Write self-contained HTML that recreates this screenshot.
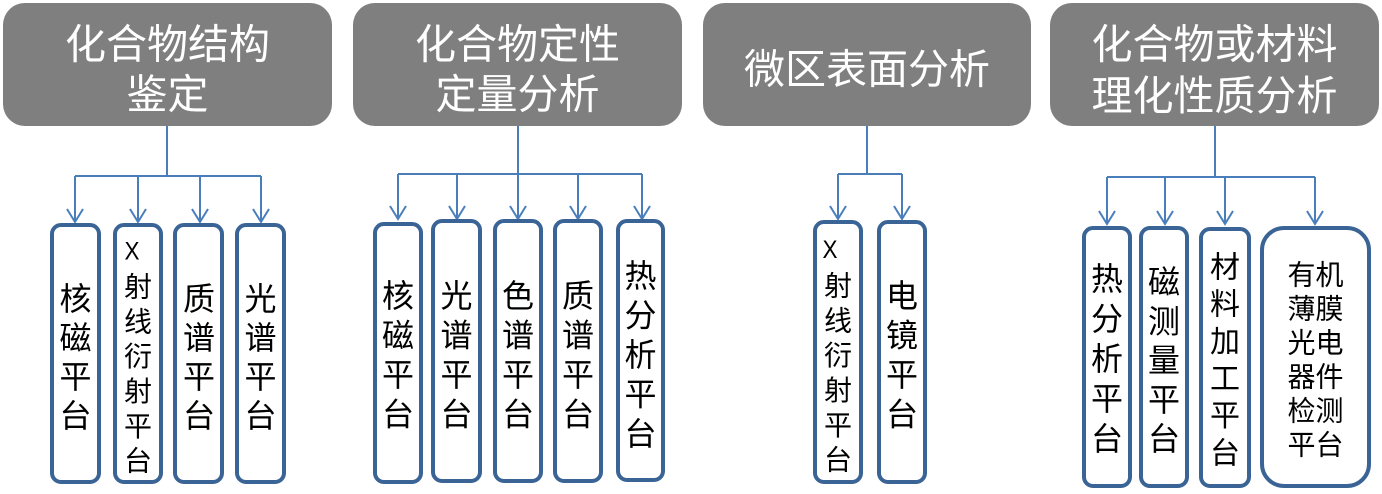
<!DOCTYPE html>
<html><head><meta charset="utf-8"><style>
html,body{margin:0;padding:0;background:#fff;}
svg{display:block;}
text{font-family:"Liberation Sans","Noto Sans CJK SC",sans-serif;}
</style></head><body>
<svg width="1382" height="494" viewBox="0 0 1382 494" xmlns="http://www.w3.org/2000/svg">
<!-- headers -->
<g fill="#7f7f7f">
<rect x="3" y="3" width="329" height="123" rx="22"/>
<rect x="353" y="3" width="329" height="123" rx="22"/>
<rect x="703" y="3" width="328" height="123" rx="22"/>
<rect x="1050" y="3" width="329" height="123" rx="22"/>
</g>
<g fill="#fff" font-size="41" text-anchor="middle">
<text x="167.5" y="58.5">化合物结构</text>
<text x="167.5" y="108.5">鉴定</text>
<text x="517.5" y="58.5">化合物定性</text>
<text x="517.5" y="108.5">定量分析</text>
<text x="867" y="83.5">微区表面分析</text>
<text x="1214.5" y="58.5">化合物或材料</text>
<text x="1214.5" y="110">理化性质分析</text>
</g>
<!-- connectors -->
<g stroke="#4a7ebb" stroke-width="2" fill="none">
<path d="M167 126V176M75 176H261M75 176V222M138 176V222M200 176V222M261 176V222"/>
<path d="M518 126V174M398 174H642M398 174V219M457 174V219M518 174V219M578 174V219M642 174V219"/>
<path d="M867 126V174M838 174H902M838 174V219M902 174V219"/>
<path d="M1215 126V177M1107 177H1315M1107 177V224M1165 177V224M1225 177V224M1315 177V224"/>
<path d="M67 209L75 222L83 209M130 209L138 222L146 209M192 209L200 222L208 209M253 209L261 222L269 209"/>
<path d="M390 206L398 219L406 206M449 206L457 219L465 206M510 206L518 219L526 206M570 206L578 219L586 206M634 206L642 219L650 206"/>
<path d="M830 206L838 219L846 206M894 206L902 219L910 206"/>
<path d="M1099 211L1107 224L1115 211M1157 211L1165 224L1173 211M1217 211L1225 224L1233 211M1307 211L1315 224L1323 211"/>
</g>
<!-- boxes -->
<g stroke="#3a6496" stroke-width="4" fill="#fff">
<rect x="52" y="225" width="47" height="257" rx="9"/>
<rect x="115" y="225" width="46" height="257" rx="9"/>
<rect x="175" y="225" width="47" height="257" rx="9"/>
<rect x="237" y="225" width="47" height="257" rx="9"/>
<rect x="375" y="224" width="46" height="258" rx="9"/>
<rect x="433" y="221" width="47" height="260" rx="9"/>
<rect x="495" y="221" width="46" height="260" rx="9"/>
<rect x="555" y="221" width="46" height="260" rx="9"/>
<rect x="618" y="221" width="45" height="259" rx="9"/>
<rect x="815" y="222" width="46" height="260" rx="9"/>
<rect x="879" y="222" width="46" height="260" rx="9"/>
<rect x="1084" y="228" width="46" height="258" rx="9"/>
<rect x="1141" y="228" width="46" height="258" rx="9"/>
<rect x="1201" y="229" width="48" height="257" rx="9"/>
<rect x="1262" y="228" width="107" height="258" rx="22"/>
</g>
<!-- box labels -->
<g fill="#000" text-anchor="middle">
<text font-size="32" x="75.5" y="310"><tspan x="75.5">核</tspan><tspan x="75.5" dy="39">磁</tspan><tspan x="75.5" dy="39">平</tspan><tspan x="75.5" dy="39">台</tspan></text>
<text font-size="25" x="132" y="259.5" transform="translate(132 0) scale(0.9 1) translate(-132 0)">X</text>
<text font-size="28" x="138" y="296.6"><tspan x="138">射</tspan><tspan x="138" dy="34.8">线</tspan><tspan x="138" dy="34.8">衍</tspan><tspan x="138" dy="34.8">射</tspan><tspan x="138" dy="34.8">平</tspan><tspan x="138" dy="34.8">台</tspan></text>
<text font-size="32" x="199" y="310"><tspan x="199">质</tspan><tspan x="199" dy="39">谱</tspan><tspan x="199" dy="39">平</tspan><tspan x="199" dy="39">台</tspan></text>
<text font-size="32" x="260.5" y="310"><tspan x="260.5">光</tspan><tspan x="260.5" dy="39">谱</tspan><tspan x="260.5" dy="39">平</tspan><tspan x="260.5" dy="39">台</tspan></text>

<text font-size="32" x="398" y="307"><tspan x="398">核</tspan><tspan x="398" dy="39.5">磁</tspan><tspan x="398" dy="39.5">平</tspan><tspan x="398" dy="39.5">台</tspan></text>
<text font-size="32" x="456.5" y="307"><tspan x="456.5">光</tspan><tspan x="456.5" dy="39.5">谱</tspan><tspan x="456.5" dy="39.5">平</tspan><tspan x="456.5" dy="39.5">台</tspan></text>
<text font-size="32" x="518" y="307"><tspan x="518">色</tspan><tspan x="518" dy="39.5">谱</tspan><tspan x="518" dy="39.5">平</tspan><tspan x="518" dy="39.5">台</tspan></text>
<text font-size="32" x="578" y="307"><tspan x="578">质</tspan><tspan x="578" dy="39.5">谱</tspan><tspan x="578" dy="39.5">平</tspan><tspan x="578" dy="39.5">台</tspan></text>
<text font-size="32" x="640.5" y="287"><tspan x="640.5">热</tspan><tspan x="640.5" dy="39.5">分</tspan><tspan x="640.5" dy="39.5">析</tspan><tspan x="640.5" dy="39.5">平</tspan><tspan x="640.5" dy="39.5">台</tspan></text>

<text font-size="25" x="830" y="258" transform="translate(830 0) scale(0.9 1) translate(-830 0)">X</text>
<text font-size="28" x="838" y="295.6"><tspan x="838">射</tspan><tspan x="838" dy="34.8">线</tspan><tspan x="838" dy="34.8">衍</tspan><tspan x="838" dy="34.8">射</tspan><tspan x="838" dy="34.8">平</tspan><tspan x="838" dy="34.8">台</tspan></text>
<text font-size="32" x="902" y="307"><tspan x="902">电</tspan><tspan x="902" dy="39.5">镜</tspan><tspan x="902" dy="39.5">平</tspan><tspan x="902" dy="39.5">台</tspan></text>

<text font-size="32" x="1107" y="290"><tspan x="1107">热</tspan><tspan x="1107" dy="40">分</tspan><tspan x="1107" dy="40">析</tspan><tspan x="1107" dy="40">平</tspan><tspan x="1107" dy="40">台</tspan></text>
<text font-size="32" x="1164" y="293"><tspan x="1164">磁</tspan><tspan x="1164" dy="39.3">测</tspan><tspan x="1164" dy="39.3">量</tspan><tspan x="1164" dy="39.3">平</tspan><tspan x="1164" dy="39.3">台</tspan></text>
<text font-size="30" x="1225" y="277.4"><tspan x="1225">材</tspan><tspan x="1225" dy="37.2">料</tspan><tspan x="1225" dy="37.2">加</tspan><tspan x="1225" dy="37.2">工</tspan><tspan x="1225" dy="37.2">平</tspan><tspan x="1225" dy="37.2">台</tspan></text>
<text font-size="28" x="1315.5" y="284.6"><tspan x="1315.5">有机</tspan><tspan x="1315.5" dy="34">薄膜</tspan><tspan x="1315.5" dy="34">光电</tspan><tspan x="1315.5" dy="34">器件</tspan><tspan x="1315.5" dy="34">检测</tspan><tspan x="1315.5" dy="34">平台</tspan></text>
</g>
</svg>
</body></html>
